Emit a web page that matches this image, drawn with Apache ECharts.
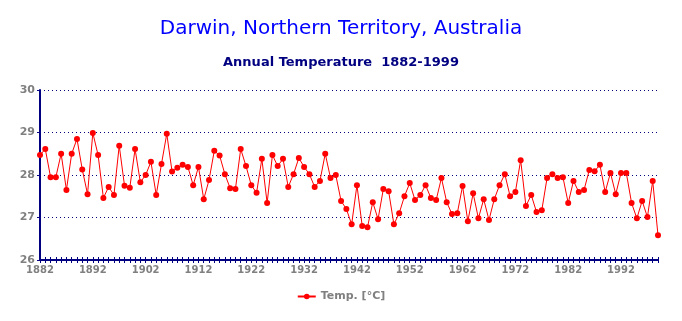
<!DOCTYPE html>
<html><head><meta charset="utf-8">
<script src="https://cdn.jsdelivr.net/npm/echarts@6/dist/echarts.min.js"></script>
<style>html,body{margin:0;padding:0;background:#fff}#c{width:682px;height:321px}</style>
</head><body><div id="c"></div>
<script>
const years = [];
for (let y = 1882; y <= 1999; y++) years.push(String(y));
const temps1882_1908 = [28.47,28.61,27.95,27.95,28.50,27.65,28.50,28.85,28.13,27.55,28.99,28.47,27.46,27.72,27.53,28.69,27.75,27.70,28.61,27.83,28.00,28.31,27.53,28.26,28.97,28.08,28.17];
const temps1909_1938 = [28.24,28.19,27.76,28.19,27.43,27.88,28.57,28.46,28.02,27.69,27.67,28.61,28.21,27.76,27.58,28.38,27.34,28.47,28.21,28.38,27.72,28.02,28.40,28.19,28.02,27.72,27.86,28.50,27.93,28.00];
const temps1939_1969 = [27.39,27.20,26.84,27.76,26.80,26.77,27.36,26.96,27.67,27.62,26.84,27.10,27.50,27.81,27.41,27.53,27.76,27.46,27.41,27.93,27.36,27.08,27.10,27.74,26.91,27.57,26.98,27.43,26.94,27.43,27.76];
const temps1970_1999 = [28.02,27.50,27.60,28.35,27.27,27.53,27.13,27.17,27.93,28.02,27.93,27.95,27.34,27.86,27.60,27.65,28.12,28.09,28.24,27.60,28.05,27.55,28.05,28.05,27.34,26.98,27.39,27.01,27.86,26.58];
const temps = temps1882_1908.concat(temps1909_1938, temps1939_1969, temps1970_1999);
const yTicks = [26, 27, 28, 29, 30];
const seriesName = 'Temp. [°C]';

const gridPos = {left: 40, right: 24, top: 90, bottom: 61, containLabel: false};
const chart = echarts.init(document.getElementById('c'), null, {renderer: 'canvas'});
chart.setOption({
  backgroundColor: '#ffffff',
  animation: false,
  title: [
    {text: 'Darwin, Northern Territory, Australia', left: 'center', top: 14,
     textStyle: {color: '#0000ff', fontFamily: 'DejaVu Sans', fontSize: 20, fontWeight: 'normal'}},
    {text: 'Annual Temperature  1882-1999', left: 'center', top: 51,
     textStyle: {color: '#000080', fontFamily: 'DejaVu Sans', fontSize: 13, fontWeight: 'bold'}}
  ],
  legend: {
    bottom: 14, left: 'center', itemWidth: 18, itemHeight: 7,
    data: [seriesName],
    textStyle: {color: '#808080', fontFamily: 'DejaVu Sans', fontSize: 11, fontWeight: 'bold'}
  },
  grid: [Object.assign({}, gridPos), Object.assign({}, gridPos)],
  xAxis: [{
    type: 'category', data: years, boundaryGap: false, gridIndex: 0,
    axisLine: {lineStyle: {color: '#000080', width: 2}},
    axisTick: {interval: 0, length: 3, lineStyle: {color: '#000080'}},
    axisLabel: {interval: 9, color: '#808080', fontFamily: 'DejaVu Sans', fontSize: 10, fontWeight: 'bold', margin: 5},
    splitLine: {show: false}
  }, {
    type: 'category', data: years, boundaryGap: false, gridIndex: 1, position: 'bottom',
    axisLine: {show: false},
    axisTick: {interval: 0, inside: true, length: 3, lineStyle: {color: '#000080'}},
    axisLabel: {show: false},
    splitLine: {show: false}
  }],
  yAxis: [{
    type: 'value', min: yTicks[0], max: yTicks[yTicks.length - 1], interval: 1, gridIndex: 0,
    axisLine: {show: true, lineStyle: {color: '#000080', width: 2}},
    axisTick: {show: true, length: 3, lineStyle: {color: '#000080'}},
    axisLabel: {color: '#808080', fontFamily: 'DejaVu Sans', fontSize: 11, fontWeight: 'bold', margin: 5},
    splitLine: {show: true, lineStyle: {color: '#000080', type: [1, 3], width: 1}}
  }, {
    type: 'value', min: yTicks[0], max: yTicks[yTicks.length - 1], interval: 1, gridIndex: 1,
    show: false
  }],
  series: [{
    name: seriesName, type: 'line', data: temps, xAxisIndex: 0, yAxisIndex: 0,
    symbol: 'circle', symbolSize: 6, showAllSymbol: true,
    itemStyle: {color: '#ff0000'},
    lineStyle: {color: '#ff0000', width: 1}
  }]
});
</script></body></html>
